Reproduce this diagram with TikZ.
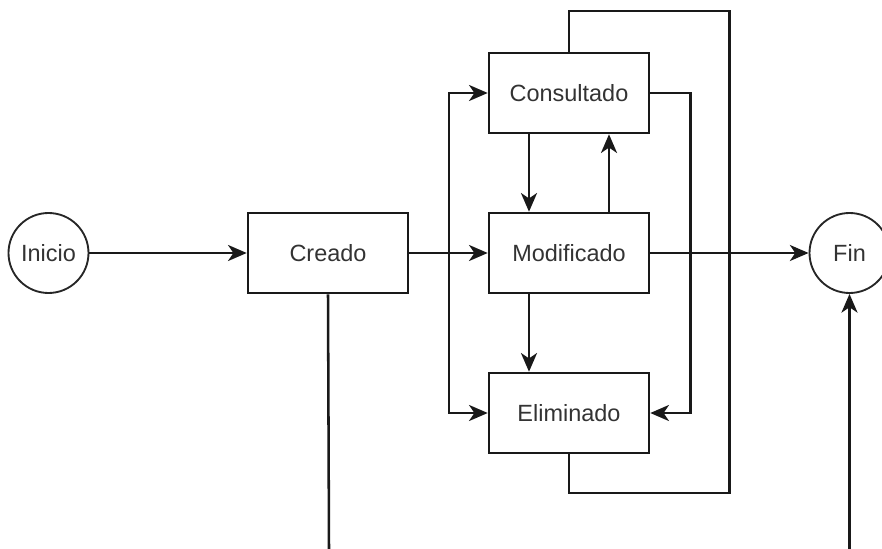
\documentclass[tikz,border=0pt]{standalone}
\usepackage{fontspec}
\setmainfont{Liberation Sans}
\usetikzlibrary{arrows.meta,calc}
\begin{document}
\begin{tikzpicture}[x=0.75pt,y=-0.75pt,
  line width=1.9pt,
  statebox/.style={draw=black!90,rectangle,minimum width=120pt,minimum height=60pt,inner sep=0pt,
    font=\fontsize{17.6}{20}\selectfont,text=black!80},
  endcirc/.style={draw=black!85,circle,minimum size=60pt,inner sep=0pt,line width=1.4pt,
    font=\fontsize{17.6}{20}\selectfont,text=black!80},
  arr/.style={-{Stealth[length=14pt,width=12pt,inset=4pt]}},
  conn/.style={draw=black!90}]
\useasboundingbox (0,0) rectangle (882,549);
\node[endcirc] (ini) at (48.5,253) {Inicio};
\node[statebox] (cre) at (328,253) {Creado};
\node[statebox] (con) at (569,93) {Consultado};
\node[statebox] (mod) at (569,253) {Modificado};
\node[statebox] (eli) at (569,413) {Eliminado};
\node[endcirc] (fin) at (849.5,253) {Fin};
\coordinate (br) at (449,253);
\coordinate (crebot) at (329,549);
\coordinate (finbot) at (849.5,549);
\draw[conn,arr] (ini) -- (cre);
\draw[conn,arr] (cre) -- (mod);
\draw[conn,arr] (br) |- (con.west);
\draw[conn,arr] (br) |- (eli.west);
\draw[conn,arr] ($(con.south)+(-40,0)$) -- ($(mod.north)+(-40,0)$);
\draw[conn,arr] ($(mod.north)+(40,0)$) -- ($(con.south)+(40,0)$);
\draw[conn,arr] ($(mod.south)+(-40,0)$) -- ($(eli.north)+(-40,0)$);
\draw[conn,arr] (mod) -- (fin);
\draw[conn,arr] (con.east) -- ++(40,0) |- (eli.east);
\draw[conn] (con.north) -- ++(0,-40.5) -| (729.5,493) -| (eli.south);
\draw[conn] (cre.south) -- (crebot);
\draw[conn,arr] (finbot) -- (fin.south);
\end{tikzpicture}
\end{document}
